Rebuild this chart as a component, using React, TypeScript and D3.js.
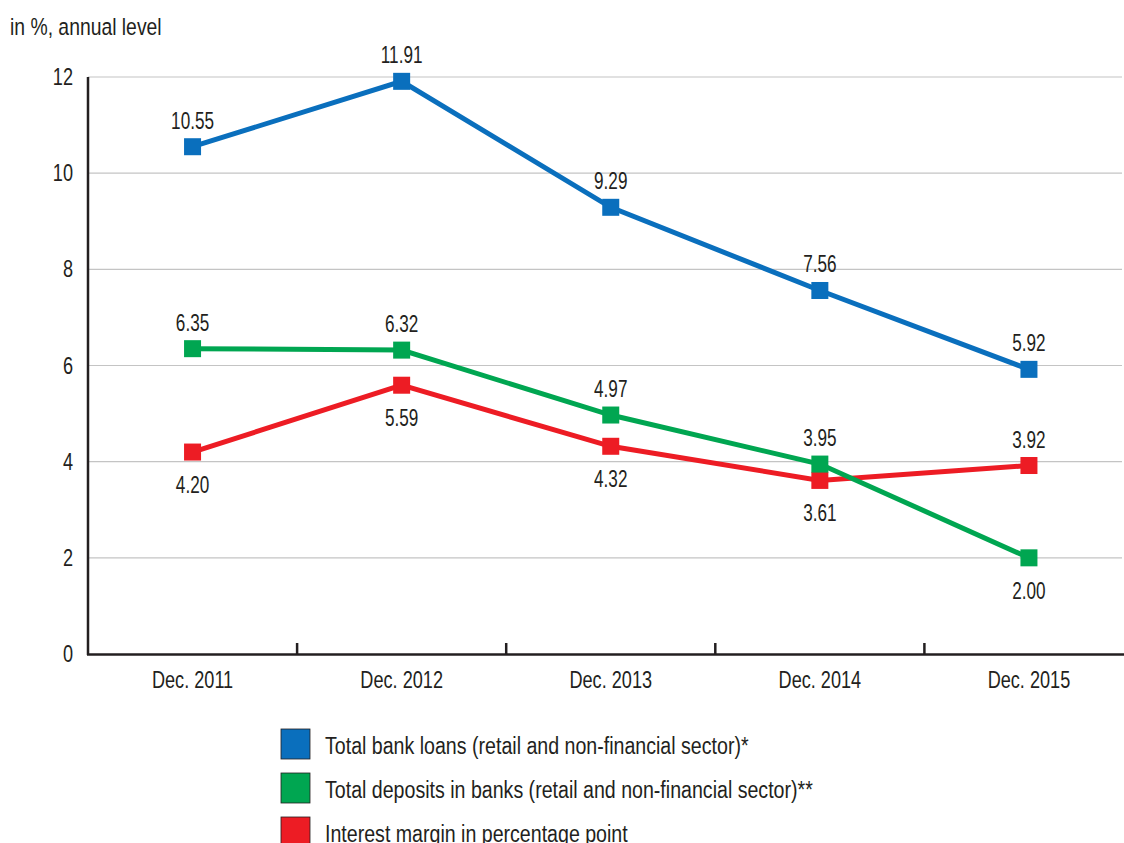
import React, { useEffect, useRef } from "react";
import * as d3 from "d3";

const categories = ["Dec. 2011", "Dec. 2012", "Dec. 2013", "Dec. 2014", "Dec. 2015"];
const loans = [10.55, 11.91, 9.29, 7.56, 5.92];
const deposits = [6.35, 6.32, 4.97, 3.95, 2.0];
const margin = [4.2, 5.59, 4.32, 3.61, 3.92];
const depositLabelPos = ["above", "above", "above", "above", "below"];
const marginLabelPos = ["below", "below", "below", "below", "above"];
const loansLabelPos = ["above", "above", "above", "above", "above"];
const yTicks = [0, 2, 4, 6, 8, 10, 12];
const seriesNames = [
  "Total bank loans (retail and non-financial sector)*",
  "Total deposits in banks (retail and non-financial sector)**",
  "Interest margin in percentage point",
];
const colors = ["#0a6fbd", "#00a651", "#ed1c24"];

const FONT = "'Liberation Sans', Arial, sans-serif";
const FS = 24.5;

function addText(
  g: d3.Selection<any, any, any, any>,
  x: number, y: number, text: string, anchor: string, sx: number
) {
  g.append("text")
    .attr("transform", `translate(${x},${y}) scale(${sx},1)`)
    .attr("text-anchor", anchor)
    .attr("font-family", FONT).attr("font-size", FS).attr("fill", "#231f20")
    .text(text);
}

export default function App() {
  const ref = useRef<SVGSVGElement>(null);
  useEffect(() => {
    const svg = d3.select(ref.current);
    svg.selectAll("*").remove();
    const W = 1124;
    const x = d3.scaleBand<string>().domain(categories).range([88, 88 + 5 * 209.1]);
    const y = d3.scaleLinear().domain([0, 12]).range([654, 77]);
    const cx = (c: string) => (x(c) as number) + x.bandwidth() / 2;

    // gridlines
    svg.append("g").selectAll("line").data(yTicks.filter(t => t > 0)).join("line")
      .attr("x1", 88).attr("x2", 1122).attr("y1", d => y(d)).attr("y2", d => y(d))
      .attr("stroke", "#c4c4c4").attr("stroke-width", 1.2);

    // y tick labels
    const yl = svg.append("g");
    yTicks.forEach(t => addText(yl, 73, y(t) + 8, String(t), "end", 0.74));

    // y axis line
    svg.append("line").attr("x1", 88).attr("x2", 88).attr("y1", 77).attr("y2", 655)
      .attr("stroke", "#231f20").attr("stroke-width", 2.5);
    // x axis line
    svg.append("line").attr("x1", 87).attr("x2", W).attr("y1", 654.5).attr("y2", 654.5)
      .attr("stroke", "#231f20").attr("stroke-width", 2.5);
    // x ticks between categories
    const tickXs = categories.slice(1).map(c => x(c) as number);
    svg.append("g").selectAll("line").data(tickXs).join("line")
      .attr("x1", d => d).attr("x2", d => d).attr("y1", 643).attr("y2", 655)
      .attr("stroke", "#231f20").attr("stroke-width", 2.5);
    // x labels
    const xl = svg.append("g");
    categories.forEach(c => addText(xl, cx(c), 688, c, "middle", 0.74));

    // title
    addText(svg, 10, 35, "in %, annual level", "start", 0.79);

    const series = [
      { vals: loans, pos: loansLabelPos, color: colors[0] },
      { vals: deposits, pos: depositLabelPos, color: colors[1] },
      { vals: margin, pos: marginLabelPos, color: colors[2] },
    ];
    const line = d3.line<number>().x((_, i) => cx(categories[i])).y(d => y(d));
    const order = [2, 1, 0];
    order.forEach(si => {
      const s = series[si];
      const g = svg.append("g");
      g.append("path").attr("d", line(s.vals) as string).attr("fill", "none")
        .attr("stroke", s.color).attr("stroke-width", 5);
      g.selectAll("rect").data(s.vals).join("rect")
        .attr("x", (_, i) => cx(categories[i]) - 8.5).attr("y", d => y(d) - 8.5)
        .attr("width", 17).attr("height", 17).attr("fill", s.color);
    });
    const lab = svg.append("g");
    series.forEach(s => {
      s.vals.forEach((v, i) => {
        const ty = s.pos[i] === "above" ? y(v) - 18 : y(v) + 41;
        addText(lab, cx(categories[i]), ty, v.toFixed(2), "middle", 0.7);
      });
    });

    // legend
    const lg = svg.append("g");
    seriesNames.forEach((name, i) => {
      const ly = 729 + i * 44;
      lg.append("rect").attr("x", 281).attr("y", ly).attr("width", 29).attr("height", 30)
        .attr("fill", colors[i]).attr("stroke", "#231f20").attr("stroke-width", 0.8);
      addText(lg, 325, ly + 25, name, "start", 0.8);
    });
  }, []);
  return (
    <div style={{ position: "absolute", left: 0, top: 0 }}>
      <svg ref={ref} width={1124} height={843} style={{ display: "block", background: "#fff" }} />
    </div>
  );
}
